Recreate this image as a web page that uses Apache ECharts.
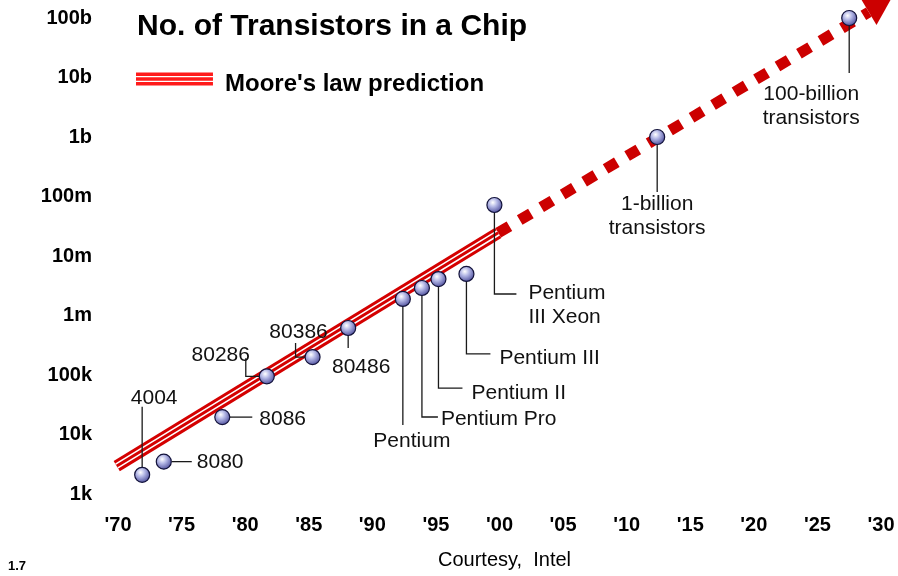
<!DOCTYPE html>
<html>
<head>
<meta charset="utf-8">
<title>No. of Transistors in a Chip</title>
<script src="https://cdn.jsdelivr.net/npm/echarts@6/dist/echarts.min.js"></script>
<style>
  html, body { margin: 0; padding: 0; background: #fff; }
  #chart { width: 898px; height: 576px; }
</style>
</head>
<body>
<div id="chart"></div>
<script>
// tick labels
const xTickLabels = ["'70", "'75", "'80", "'85", "'90", "'95", "'00", "'05", "'10", "'15", "'20", "'25", "'30"];
const yTickLabels = ['1k', '10k', '100k', '1m', '10m', '100m', '1b', '10b', '100b'];

// chips (year, transistor count)
const chipNames = ['4004', '8080', '8086', '80286', '80386', '80486', 'Pentium', 'Pentium Pro',
  'Pentium II', 'Pentium III', 'Pentium\nIII Xeon', '1-billion\ntransistors', '100-billion\ntransistors'];
const chipYears = [1971.9, 1973.6, 1978.2, 1981.7, 1985.3, 1988.1, 1992.4, 1993.9, 1995.2, 1997.4, 1999.6, 2012.4, 2027.5];
const chipTransistors = [2100, 3500, 19600, 95000, 200000, 617000, 1.9e6, 2.9e6, 4.1e6, 5.0e6, 7.2e7, 1.0e9, 1.0e11];

// Moore's law prediction: solid part and dashed projection
const mooreYears = [1969.9, 1999.9];
const mooreValues = [2950, 2.45e7];
const projectionYears = [1999.9, 2030.8];
const projectionValues = [2.45e7, 2.1e11];

// callout layout, pixel offsets from the point (path of leader line, text anchor)
const callouts = [
  { path: [[0, 0], [0, -68]], text: [12, -77], align: 'center' },
  { path: [[8, 0], [28, 0]], text: [33, 1], align: 'left' },
  { path: [[7, 0], [30, 0]], text: [37, 2], align: 'left' },
  { path: [[-7, 0], [-21, 0], [-21, -18]], text: [-46, -21], align: 'center' },
  { path: [[-7, 0], [-17, 0], [-17, -14]], text: [-14, -25], align: 'center' },
  { path: [[0, 7], [0, 20]], text: [13, 39], align: 'center' },
  { path: [[0, 7], [0, 126]], text: [9, 142], align: 'center' },
  { path: [[0, 7], [0, 129], [16, 129]], text: [19, 131], align: 'left' },
  { path: [[0, 7], [0, 109], [24, 109]], text: [33, 114], align: 'left' },
  { path: [[0, 7], [0, 80], [24, 80]], text: [33, 84], align: 'left' },
  { path: [[0, 7], [0, 89], [22, 89]], text: [34, 100], align: 'left' },
  { path: [[0, 7], [0, 55]], text: [0, 79], align: 'center' },
  { path: [[0, 7], [0, 55]], text: [-38, 88], align: 'center' }
];

const fontFamily = '"Liberation Sans", Arial, sans-serif';

const chipData = chipYears.map((y, i) => [y, chipTransistors[i]]);
const mooreData = mooreYears.map((y, i) => [y, mooreValues[i]]);

const sphere = {
  type: 'radial', x: 0.4, y: 0.35, r: 0.75,
  colorStops: [
    { offset: 0, color: '#ffffff' },
    { offset: 0.35, color: '#b4b8e6' },
    { offset: 1, color: '#36368a' }
  ]
};

const myChart = echarts.init(document.getElementById('chart'));

const option = {
  backgroundColor: '#ffffff',
  animation: false,
  title: {
    text: 'No. of Transistors in a Chip',
    left: 137,
    top: 12,
    padding: 0,
    textStyle: { fontFamily: fontFamily, fontSize: 30, fontWeight: 'bold', color: '#000' }
  },
  legend: {
    data: [{ name: "Moore's law prediction", itemStyle: { color: '#ff1a1a' } }],
    left: 136,
    top: 72,
    padding: 0,
    itemWidth: 77,
    itemHeight: 23,
    // three stripes in the upper part of the icon box, so the text sits a little lower
    icon: 'path://M0,0h77v3.4h-77z M0,4.8h77v3.4h-77z M0,9.6h77v3.4h-77z M0,23h77v0.01h-77z',
    textStyle: { fontFamily: fontFamily, fontSize: 24, fontWeight: 'bold', color: '#000', padding: [0, 0, 0, 7] }
  },
  grid: { left: 118, right: 17, top: 18, bottom: 82, containLabel: false },
  xAxis: {
    type: 'value',
    min: 1970,
    max: 2030,
    interval: 5,
    axisLine: { show: false },
    axisTick: { show: false },
    splitLine: { show: false },
    axisLabel: {
      margin: 21,
      fontFamily: fontFamily,
      fontSize: 20,
      fontWeight: 'bold',
      color: '#000',
      formatter: v => xTickLabels[Math.round((v - 1970) / 5)] || ''
    }
  },
  yAxis: {
    type: 'log',
    logBase: 10,
    min: 1000,
    max: 1e11,
    splitNumber: 8,
    axisLine: { show: false },
    axisTick: { show: false },
    splitLine: { show: false },
    axisLabel: {
      margin: 26,
      fontFamily: fontFamily,
      fontSize: 20,
      fontWeight: 'bold',
      color: '#000',
      formatter: v => yTickLabels[Math.round(Math.log10(v)) - 3] || ''
    }
  },
  series: [
    {
      name: "Moore's law prediction",
      type: 'line',
      data: mooreData,
      symbol: 'none',
      clip: false,
      z: 2,
      color: '#d40000',
      lineStyle: { color: '#d40000', width: 12, cap: 'butt' }
    },
    {
      name: 'moore-gap',
      type: 'line',
      data: mooreData,
      symbol: 'none',
      clip: false,
      z: 2,
      lineStyle: { color: '#ffffff', width: 6, cap: 'butt' }
    },
    {
      name: 'moore-core',
      type: 'line',
      data: mooreData,
      symbol: 'none',
      clip: false,
      z: 2,
      lineStyle: { color: '#d40000', width: 3, cap: 'butt' }
    },
    {
      // dashed projection with arrow head
      name: 'projection',
      type: 'custom',
      z: 2,
      clip: false,
      data: [[projectionYears[0], projectionValues[0], projectionYears[1], projectionValues[1]]],
      renderItem: function (params, api) {
        const p0 = api.coord([api.value(0), api.value(1)]);
        const p1 = api.coord([api.value(2), api.value(3)]);
        const dx = p1[0] - p0[0], dy = p1[1] - p0[1];
        const len = Math.sqrt(dx * dx + dy * dy);
        const ux = dx / len, uy = dy / len;
        const head = 26, half = 15;
        const bx = p1[0] - ux * head, by = p1[1] - uy * head;
        return {
          type: 'group',
          children: [
            {
              type: 'line',
              shape: { x1: p0[0], y1: p0[1], x2: bx, y2: by },
              style: { stroke: '#cc0000', lineWidth: 11, lineDash: [13, 12], lineCap: 'butt' }
            },
            {
              type: 'polygon',
              shape: { points: [[p1[0], p1[1]], [bx - uy * half, by + ux * half], [bx + uy * half, by - ux * half]] },
              style: { fill: '#cc0000' }
            }
          ]
        };
      }
    },
    {
      name: 'callouts',
      type: 'custom',
      z: 3,
      clip: false,
      data: chipData,
      renderItem: function (params, api) {
        const p = api.coord([api.value(0), api.value(1)]);
        const c = callouts[params.dataIndex];
        return {
          type: 'group',
          children: [
            {
              type: 'polyline',
              shape: { points: c.path.map(d => [p[0] + d[0], p[1] + d[1]]) },
              style: { stroke: '#1a1a1a', lineWidth: 1.3, fill: null }
            },
            {
              type: 'text',
              x: p[0] + c.text[0],
              y: p[1] + c.text[1],
              style: {
                text: chipNames[params.dataIndex],
                fontFamily: fontFamily,
                fontSize: 21,
                lineHeight: 24,
                fill: '#111',
                align: c.align,
                verticalAlign: 'middle'
              }
            }
          ]
        };
      }
    },
    {
      name: 'chips',
      type: 'scatter',
      z: 4,
      clip: false,
      data: chipData,
      symbolSize: 15,
      itemStyle: { color: sphere, borderColor: '#12123a', borderWidth: 1.2, opacity: 1 }
    }
  ],
  graphic: [
    {
      type: 'text', left: 8, top: 560,
      style: { text: '1.7', fontFamily: fontFamily, fontSize: 13, fontWeight: 'bold', fill: '#000' }
    },
    {
      type: 'text', left: 438, top: 550,
      style: { text: 'Courtesy,  Intel', fontFamily: fontFamily, fontSize: 20, fill: '#000' }
    }
  ]
};

myChart.setOption(option);
window.addEventListener('resize', function () {
  myChart.resize();
});
</script>
</body>
</html>
